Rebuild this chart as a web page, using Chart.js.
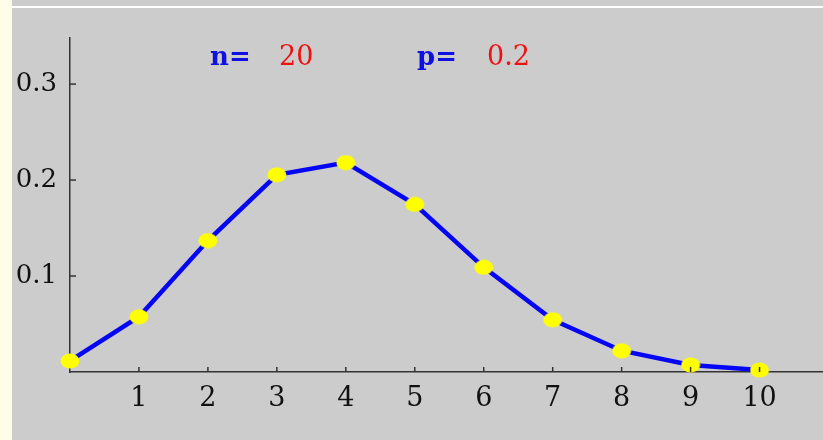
<!DOCTYPE html>
<html>
<head>
<meta charset="utf-8">
<title>Binomial distribution n=20, p=0.2</title>
<script src="https://cdn.jsdelivr.net/npm/chart.js@4/dist/chart.umd.min.js"></script>
<style>
    html, body { margin: 0; padding: 0; background: #cccccc; }
    #wrap { width: 823px; height: 440px; }
</style>
</head>
<body>
<div id="wrap"><canvas id="binomChart" width="823" height="440"></canvas></div>
<script>
// k values and P(X = k) for X ~ Bin(20, 0.2)
const kValues = [0, 1, 2, 3, 4, 5, 6, 7, 8, 9, 10];
const probabilities = [0.0115, 0.0576, 0.1369, 0.2054, 0.2182, 0.1746, 0.1091, 0.0545, 0.0222, 0.0074, 0.0020];
const xTickValues = [1, 2, 3, 4, 5, 6, 7, 8, 9, 10];
const yTickValues = [0.1, 0.2, 0.3];
const paramLabels = ['n=', '20', 'p=', '0.2'];

document.addEventListener('DOMContentLoaded', function() {
    const serif = '"DejaVu Serif", serif';

    // yellow oval marker
    const marker = document.createElement('canvas');
    marker.width = 20;
    marker.height = 16;
    const mctx = marker.getContext('2d');
    mctx.fillStyle = '#ffff00';
    mctx.beginPath();
    mctx.ellipse(10, 8, 9.5, 7.5, 0, 0, Math.PI * 2);
    mctx.fill();

    const backdrop = {
        id: 'backdrop',
        beforeDraw(chart) {
            const ctx = chart.ctx;
            ctx.save();
            ctx.fillStyle = '#cccccc';
            ctx.fillRect(0, 0, chart.width, chart.height);
            ctx.fillStyle = '#fdfde8';
            ctx.fillRect(0, 0, 12, chart.height);
            ctx.fillStyle = '#ffffff';
            ctx.fillRect(12, 6, chart.width - 12, 2);
            ctx.restore();
        }
    };

    // short tick marks pointing into the plot, plus the n/p caption
    const extras = {
        id: 'extras',
        afterDatasetsDraw(chart) {
            const ctx = chart.ctx;
            const xs = chart.scales.x, ys = chart.scales.y;
            const x0 = xs.getPixelForValue(0), y0 = ys.getPixelForValue(0);
            ctx.save();
            ctx.strokeStyle = '#333333';
            ctx.lineWidth = 1.5;
            xTickValues.forEach(v => {
                const px = xs.getPixelForValue(v);
                ctx.beginPath();
                ctx.moveTo(px, y0);
                ctx.lineTo(px, y0 - 5);
                ctx.stroke();
            });
            yTickValues.forEach(v => {
                const py = ys.getPixelForValue(v);
                ctx.beginPath();
                ctx.moveTo(x0, py);
                ctx.lineTo(x0 + 6, py);
                ctx.stroke();
            });
            ctx.textBaseline = 'alphabetic';
            ctx.textAlign = 'left';
            ctx.font = 'bold 26px ' + serif;
            ctx.fillStyle = '#1010e0';
            ctx.fillText(paramLabels[0], 210, 65);
            ctx.fillText(paramLabels[2], 417, 65);
            ctx.font = '27px ' + serif;
            ctx.fillStyle = '#ee1111';
            ctx.fillText(paramLabels[1], 279, 65);
            ctx.fillText(paramLabels[3], 487, 65);
            ctx.restore();
        }
    };

    const ctx = document.getElementById('binomChart').getContext('2d');
    new Chart(ctx, {
        type: 'line',
        data: {
            datasets: [{
                data: kValues.map((k, i) => ({ x: k, y: probabilities[i] })),
                borderColor: '#0505f5',
                borderWidth: 4.5,
                tension: 0,
                pointStyle: marker,
                pointRadius: 8,
                clip: false
            }]
        },
        options: {
            responsive: false,
            animation: false,
            layout: { autoPadding: false, padding: { top: 38, left: 0, right: 0, bottom: 0 } },
            plugins: {
                legend: { display: false },
                tooltip: { enabled: false }
            },
            scales: {
                x: {
                    type: 'linear',
                    min: 0,
                    max: 10.92,
                    afterBuildTicks(scale) {
                        scale.ticks = xTickValues.map(v => ({ value: v }));
                    },
                    afterFit(scale) { scale.height = 68; },
                    grid: { display: false, drawTicks: false },
                    border: { display: true, color: '#333333', width: 1.5 },
                    ticks: {
                        color: '#111111',
                        font: { family: serif, size: 27 },
                        padding: 11,
                        autoSkip: false,
                        maxRotation: 0
                    }
                },
                y: {
                    min: 0,
                    max: 0.348,
                    afterBuildTicks(scale) {
                        scale.ticks = yTickValues.map(v => ({ value: v }));
                    },
                    afterFit(scale) { scale.width = 70; },
                    grid: { display: false, drawTicks: false },
                    border: { display: true, color: '#333333', width: 1.5 },
                    ticks: {
                        color: '#111111',
                        font: { family: serif, size: 26 },
                        padding: 13,
                        callback: v => v.toFixed(1)
                    }
                }
            }
        },
        plugins: [backdrop, extras]
    });
});
</script>
</body>
</html>
